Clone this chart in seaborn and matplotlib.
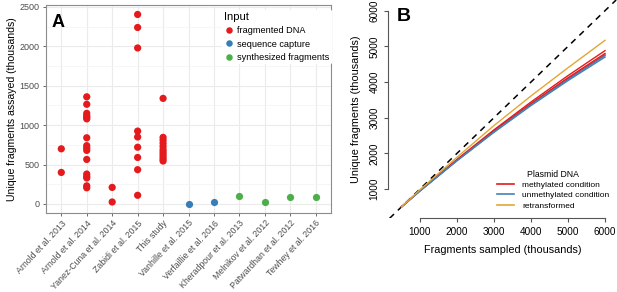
import pandas as pd
import matplotlib
matplotlib.use("Agg")
import matplotlib.pyplot as plt
import seaborn as sns
from matplotlib.ticker import MultipleLocator

plt.rcParams["font.family"] = ["Liberation Sans", "DejaVu Sans"]

# ---- panel A data (thousands of unique fragments) ----
studies = ["Arnold et al. 2013", "Arnold et al. 2014", "Yanez-Cuna et al. 2014",
           "Zabidi et al. 2015", "This study", "Vanhille et al. 2015",
           "Verfaillie et al. 2016", "Kheradpour et al. 2013", "Melnikov et al. 2012",
           "Patwardhan et al. 2012", "Tewhey et al. 2016"]
study_input = ["fragmented DNA"] * 5 + ["sequence capture"] * 2 + ["synthesized fragments"] * 4

arnold_2013 = [700, 400]
arnold_2014 = [1360, 1265, 1150, 1120, 1100, 1080, 840, 740, 710, 680, 565,
               380, 350, 330, 230, 205]
yanez_cuna_2014 = [210, 25]
zabidi_2015 = [2405, 2240, 1980, 925, 850, 720, 590, 435, 110]
this_study = [1340, 845, 810, 770, 730, 690, 660, 630, 600, 570, 545]
vanhille_2015 = [5]
verfaillie_2016 = [20]
kheradpour_2013 = [102]
melnikov_2012 = [30]
patwardhan_2012 = [94]
tewhey_2016 = [85]

values_by_study = [arnold_2013, arnold_2014, yanez_cuna_2014, zabidi_2015, this_study,
                   vanhille_2015, verfaillie_2016, kheradpour_2013, melnikov_2012,
                   patwardhan_2012, tewhey_2016]

input_order = ["fragmented DNA", "sequence capture", "synthesized fragments"]
input_colors = ["#E41A1C", "#377EB8", "#4DAF4A"]

rows = []
for study, kind, vals in zip(studies, study_input, values_by_study):
    for v in vals:
        rows.append({"study": study, "input": kind, "fragments": v})
df_a = pd.DataFrame(rows)

# ---- panel B data (thousands) ----
sampled = [500, 1000, 2000, 3000, 4000, 5000, 6000]
methylated_1 = [500, 960, 1830, 2660, 3440, 4180, 4880]
methylated_2 = [500, 955, 1815, 2630, 3395, 4120, 4800]
methylated_3 = [500, 950, 1805, 2615, 3375, 4090, 4760]
unmethylated_1 = [500, 945, 1790, 2590, 3340, 4040, 4700]
unmethylated_2 = [500, 948, 1800, 2605, 3360, 4070, 4740]
retransformed = [500, 980, 1890, 2780, 3610, 4400, 5170]

curves = [("methylated condition", "m1", methylated_1),
          ("methylated condition", "m2", methylated_2),
          ("methylated condition", "m3", methylated_3),
          ("unmethylated condition", "u1", unmethylated_1),
          ("unmethylated condition", "u2", unmethylated_2),
          ("retransformed", "r1", retransformed)]
rows = []
for cond, rep, ys in curves:
    for x, y in zip(sampled, ys):
        rows.append({"sampled": x, "unique": y, "condition": cond, "rep": rep})
df_b = pd.DataFrame(rows)

cond_order = ["methylated condition", "unmethylated condition", "retransformed"]
cond_colors = ["#E41A1C", "#4682B4", "#E6A532"]

fig = plt.figure(figsize=(6.17, 2.92), dpi=100)

# ================= panel A =================
ax1 = fig.add_axes([0.0746, 0.2705, 0.4619, 0.7123])
ax1.set_axisbelow(True)
sns.stripplot(data=df_a, x="study", y="fragments", hue="input", order=studies,
              hue_order=input_order, palette=input_colors, jitter=False, size=5.2,
              linewidth=0, ax=ax1, zorder=3)
ax1.set_xlim(-0.6, 10.6)
ax1.set_ylim(-115, 2525)
ax1.yaxis.set_major_locator(MultipleLocator(500))
ax1.yaxis.set_minor_locator(MultipleLocator(250))
ax1.grid(True, which="major", color="#EBEBEB", lw=0.8)
ax1.grid(True, which="minor", axis="y", color="#F3F3F3", lw=0.5)
for s in ax1.spines.values():
    s.set_color("#8C8C8C")
    s.set_linewidth(0.8)
ax1.tick_params(axis="both", which="major", length=2.5, width=0.6, color="#555555",
                labelcolor="#4D4D4D", labelsize=6.5, pad=2)
ax1.tick_params(axis="y", which="minor", length=0)
ax1.set_xticks(range(len(studies)))
ax1.set_xticklabels(studies, rotation=47, ha="right", rotation_mode="anchor", fontsize=6.3)
ax1.tick_params(axis="x", pad=1.5)
ax1.set_xlabel("")
ax1.set_ylabel("Unique fragments assayed (thousands)", fontsize=7.6, labelpad=2)
ax1.text(0.018, 0.955, "A", transform=ax1.transAxes, fontsize=13, fontweight="bold",
         va="top", ha="left")
leg1 = ax1.legend(title="Input", loc="upper left", bbox_to_anchor=(0.6, 1.0),
                  fontsize=6.6, title_fontsize=8, frameon=True, handlelength=1.0,
                  handletextpad=0.4, borderpad=0.3, labelspacing=0.45, markerscale=0.9)
leg1.get_frame().set_facecolor("white")
leg1.get_frame().set_edgecolor("none")
leg1.get_frame().set_alpha(1)
leg1._legend_box.align = "left"

# ================= panel B =================
ax2 = fig.add_axes([0.6288, 0.2524, 0.3712, 0.7476])
ax2.axline((0, 0), slope=1, color="black", lw=1.1, ls=(0, (4, 3.5)), zorder=1)
sns.lineplot(data=df_b, x="sampled", y="unique", hue="condition", units="rep",
             estimator=None, hue_order=cond_order, palette=cond_colors, lw=1.0,
             ax=ax2, zorder=2)
ax2.set_xlim(135, 6324)
ax2.set_ylim(179, 6300)
ax2.set_xticks([1000, 2000, 3000, 4000, 5000, 6000])
ax2.set_yticks([1000, 2000, 3000, 4000, 5000, 6000])
ax2.spines["top"].set_visible(False)
ax2.spines["right"].set_visible(False)
ax2.spines["left"].set_bounds(1000, 6000)
ax2.spines["bottom"].set_bounds(1000, 6000)
for s in ("left", "bottom"):
    ax2.spines[s].set_color("#555555")
    ax2.spines[s].set_linewidth(0.8)
ax2.tick_params(axis="both", length=3.2, width=0.8, color="#555555", labelsize=7.2,
                pad=3)
for lab in ax2.get_yticklabels():
    lab.set_rotation(90)
    lab.set_va("center")
ax2.set_xlabel("Fragments sampled (thousands)", fontsize=7.8, labelpad=6)
ax2.set_ylabel("Unique fragments (thousands)", fontsize=7.8, labelpad=6)
ax2.text(0.04, 0.965, "B", transform=ax2.transAxes, fontsize=14, fontweight="bold",
         va="top", ha="left")
leg2 = ax2.legend(title="Plasmid DNA", loc="lower right", bbox_to_anchor=(1.0, 0.005),
                  fontsize=6, title_fontsize=6.2, frameon=False, handlelength=2.0,
                  handletextpad=1.0, labelspacing=0.3)
for line in leg2.get_lines():
    line.set_linewidth(1.2)

fig.savefig("out.png", dpi=100)
